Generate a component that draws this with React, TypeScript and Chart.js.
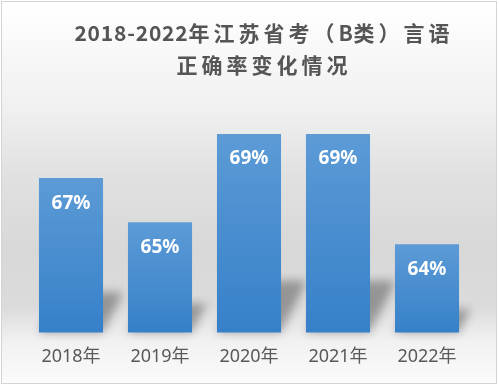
import React, { useEffect, useRef } from "react";
import { Chart, registerables } from "chart.js";

Chart.register(...registerables);

const categories = ["2018年", "2019年", "2020年", "2021年", "2022年"];
const accuracy = [67, 65, 69, 69, 64];
const titleLines = ["2018-2022年江苏省考（B类）言语", "正确率变化情况"];
const yMin = 60;
const yMax = 70;

const isWide = (ch: string) => /[\u3000-\u9fff\uff00-\uffef]/.test(ch);

export default function App() {
  const ref = useRef<HTMLCanvasElement>(null);

  useEffect(() => {
    document.body.style.margin = "0";
    const canvas = ref.current!;

    const titlePlugin = {
      id: "customTitle",
      afterDraw(chart: any) {
        const ctx = chart.ctx;
        ctx.save();
        ctx.font = 'bold 21px "Noto Sans CJK SC"';
        ctx.fillStyle = "#555555";
        ctx.textBaseline = "middle";
        ctx.textAlign = "left";
        const centers = [33, 65];
        titleLines.forEach((line, li) => {
          const chars = Array.from(line);
          const adv = chars.map((c) => ctx.measureText(c).width + (isWide(c) ? 4 : 0.8));
          const total = adv.reduce((a, b) => a + b, 0) - (isWide(chars[chars.length - 1]) ? 4 : 0.8);
          let x = 262 - total / 2;
          chars.forEach((c, i) => {
            ctx.fillText(c, x, centers[li]);
            x += adv[i];
          });
        });
        ctx.restore();
      },
    };

    const shadowPlugin = {
      id: "barShadow",
      beforeDatasetsDraw(chart: any) {
        const ctx = chart.ctx;
        const ys = chart.scales.y;
        const xs = chart.scales.x;
        const base = ys.getPixelForValue(yMin);
        const halfW = ((xs.getPixelForValue(1) - xs.getPixelForValue(0)) * 0.72) / 2;
        const off = 2000;
        ctx.save();
        ctx.shadowColor = "rgba(0,0,0,0.32)";
        ctx.shadowBlur = 10;
        ctx.shadowOffsetX = off;
        ctx.shadowOffsetY = 0;
        ctx.fillStyle = "#000";
        accuracy.forEach((v, i) => {
          const cx = xs.getPixelForValue(i);
          const top = ys.getPixelForValue(v);
          const h = (base - top) * 0.26;
          const dx = h * 0.5;
          const l = cx - halfW - off;
          const r = cx + halfW - off;
          ctx.beginPath();
          ctx.moveTo(l, base);
          ctx.lineTo(r, base);
          ctx.lineTo(r + dx, base - h);
          ctx.lineTo(l + dx, base - h);
          ctx.closePath();
          ctx.fill();
        });
        ctx.restore();
      },
    };

    const labelPlugin = {
      id: "barLabels",
      afterDatasetsDraw(chart: any) {
        const ctx = chart.ctx;
        const ys = chart.scales.y;
        const xs = chart.scales.x;
        ctx.save();
        ctx.font = 'bold 19px "Noto Sans", "Noto Sans CJK SC"';
        ctx.fillStyle = "#ffffff";
        ctx.textAlign = "center";
        ctx.textBaseline = "middle";
        accuracy.forEach((v, i) => {
          ctx.fillText(v + "%", xs.getPixelForValue(i), ys.getPixelForValue(v) + 25);
        });
        ctx.restore();
      },
    };

    const chart = new Chart(canvas, {
      type: "bar",
      data: {
        labels: categories,
        datasets: [
          {
            data: accuracy,
            backgroundColor: (c: any) => {
              const ch = c.chart;
              if (!ch.chartArea || !ch.scales.y) return "#4a8fd2";
              const ys = ch.scales.y;
              const top = ys.getPixelForValue(c.raw);
              const bottom = ys.getPixelForValue(yMin);
              const g = ch.ctx.createLinearGradient(0, top, 0, bottom);
              g.addColorStop(0, "#5c9bd6");
              g.addColorStop(1, "#3680c9");
              return g;
            },
            borderWidth: 0,
            barPercentage: 0.72,
            categoryPercentage: 1,
          },
        ],
      },
      options: {
        responsive: false,
        devicePixelRatio: 1,
        animation: false,
        layout: { padding: { left: 26.5, right: 27.5, top: 112, bottom: 4 } },
        plugins: {
          legend: { display: false },
          title: { display: false },
          tooltip: { enabled: false },
        },
        scales: {
          x: {
            grid: { display: false, drawTicks: false },
            border: { display: false },
            ticks: {
              color: "#595959",
              font: { family: '"Noto Sans", "Noto Sans CJK SC"', size: 18 },
              padding: 14,
              maxRotation: 0,
            },
          },
          y: {
            display: false,
            min: yMin,
            max: yMax,
          },
        },
      },
      plugins: [shadowPlugin, labelPlugin, titlePlugin],
    });

    return () => chart.destroy();
  }, []);

  return (
    <div style={{ position: "relative", width: 499, height: 386, background: "#ffffff", overflow: "hidden" }}>
      <div
        style={{
          position: "absolute",
          left: 1,
          top: 1,
          width: 494,
          height: 381,
          border: "1px solid #d4d4d4",
          background:
            "linear-gradient(to bottom, #ffffff 0%, #f0f0f0 28%, #e1e1e1 45%, #d8d8d8 65%, #dbdbdb 80%, #f1f1f1 89%, #fbfbfb 100%)",
        }}
      />
      <canvas
        ref={ref}
        width={499}
        height={386}
        style={{ position: "absolute", left: 0, top: 0, width: 499, height: 386 }}
      />
    </div>
  );
}
